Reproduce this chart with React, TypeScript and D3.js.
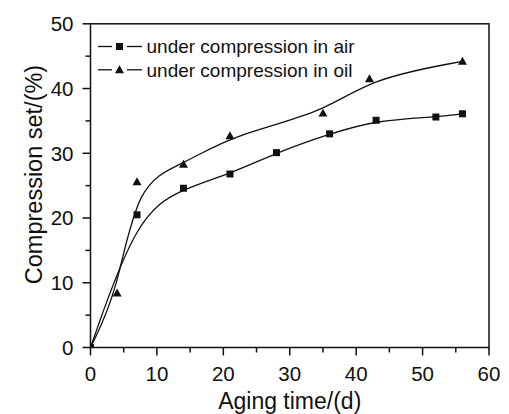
import React from "react";
import * as d3 from "d3";

const airDays = [0, 7, 14, 21, 28, 36, 43, 52, 56];
const airSet = [0, 20.5, 24.6, 26.8, 30.1, 33.0, 35.1, 35.6, 36.1];
const oilDays = [0, 4, 7, 14, 21, 35, 42, 56];
const oilSet = [0, 8.4, 25.6, 28.3, 32.7, 36.2, 41.5, 44.2];
const xTicks = [0, 10, 20, 30, 40, 50, 60];
const yTicks = [0, 10, 20, 30, 40, 50];
const xMinor = [5, 15, 25, 35, 45, 55];
const yMinor = [5, 15, 25, 35, 45];
const legendLabels = ["under compression in air", "under compression in oil"];

const W = 509, H = 414;
const L = 90.5, R = 489, T = 23.8, B = 347.5;
const FONT = "'Liberation Sans', Arial, sans-serif";

export default function App() {
  const x = d3.scaleLinear().domain([0, 60]).range([L, R]);
  const y = d3.scaleLinear().domain([0, 50]).range([B, T]);
  const line = d3
    .line<[number, number]>()
    .x((d) => x(d[0]))
    .y((d) => y(d[1]))
    .curve(d3.curveBasis);
  const air = airDays.map((d, i) => [d, airSet[i]] as [number, number]);
  const oil = oilDays.map((d, i) => [d, oilSet[i]] as [number, number]);
  const sq = 7;
  const tri = (cx: number, cy: number, s = 9) =>
    `M${cx},${cy - s * 0.5} L${cx + s / 2},${cy + s * 0.38} L${cx - s / 2},${cy + s * 0.38} Z`;

  return (
    <svg width={W} height={H} style={{ position: "absolute", left: 0, top: 0, background: "#fff" }}>
      <defs>
        <clipPath id="plot">
          <rect x={L} y={T} width={R - L} height={B - T} />
        </clipPath>
      </defs>
      <rect x={0} y={0} width={W} height={H} fill="#fff" />
      <g clipPath="url(#plot)">
        <path d={line(air) || ""} fill="none" stroke="#111" strokeWidth={1.3} />
        <path d={line(oil) || ""} fill="none" stroke="#111" strokeWidth={1.3} />
        {air.map((d, i) => (
          <rect key={"a" + i} x={x(d[0]) - sq / 2} y={y(d[1]) - sq / 2} width={sq} height={sq} fill="#111" />
        ))}
        {oil.map((d, i) => (
          <path key={"o" + i} d={tri(x(d[0]), y(d[1]))} fill="#111" />
        ))}
      </g>
      {/* frame */}
      <rect x={L} y={T} width={R - L} height={B - T} fill="none" stroke="#111" strokeWidth={1.5} />
      {/* x ticks */}
      {xTicks.map((t) => (
        <g key={"xt" + t}>
          <line x1={x(t)} x2={x(t)} y1={B} y2={B + 8} stroke="#111" strokeWidth={1.5} />
          <text x={x(t)} y={381} textAnchor="middle" fontFamily={FONT} fontSize={20.5} fill="#111">
            {t}
          </text>
        </g>
      ))}
      {xMinor.map((t) => (
        <line key={"xm" + t} x1={x(t)} x2={x(t)} y1={B} y2={B + 5} stroke="#111" strokeWidth={1.5} />
      ))}
      {yTicks.map((t) => (
        <g key={"yt" + t}>
          <line x1={L - 8} x2={L} y1={y(t)} y2={y(t)} stroke="#111" strokeWidth={1.5} />
          <text x={73.5} y={y(t) + 7.3} textAnchor="end" fontFamily={FONT} fontSize={20.5} fill="#111">
            {t}
          </text>
        </g>
      ))}
      {yMinor.map((t) => (
        <line key={"ym" + t} x1={L - 5} x2={L} y1={y(t)} y2={y(t)} stroke="#111" strokeWidth={1.5} />
      ))}
      {/* axis titles */}
      <text x={(L + R) / 2} y={409} textAnchor="middle" fontFamily={FONT} fontSize={23} fill="#111">
        Aging time/(d)
      </text>
      <text
        transform={`translate(42,174.5) rotate(-90)`}
        textAnchor="middle"
        fontFamily={FONT}
        fontSize={23.5}
        fill="#111"
      >
        Compression set/(%)
      </text>
      {/* legend */}
      {legendLabels.map((lab, i) => {
        const cy = 46.5 + i * 23.3;
        return (
          <g key={"lg" + i}>
            <line x1={98} x2={112} y1={cy} y2={cy} stroke="#111" strokeWidth={1.3} />
            <line x1={127} x2={142} y1={cy} y2={cy} stroke="#111" strokeWidth={1.3} />
            {i === 0 ? (
              <rect x={119.5 - sq / 2} y={cy - sq / 2} width={sq} height={sq} fill="#111" />
            ) : (
              <path d={tri(119.5, cy)} fill="#111" />
            )}
            <text x={146.5} y={cy + 6.8} fontFamily={FONT} fontSize={19} fill="#111">
              {lab}
            </text>
          </g>
        );
      })}
    </svg>
  );
}
